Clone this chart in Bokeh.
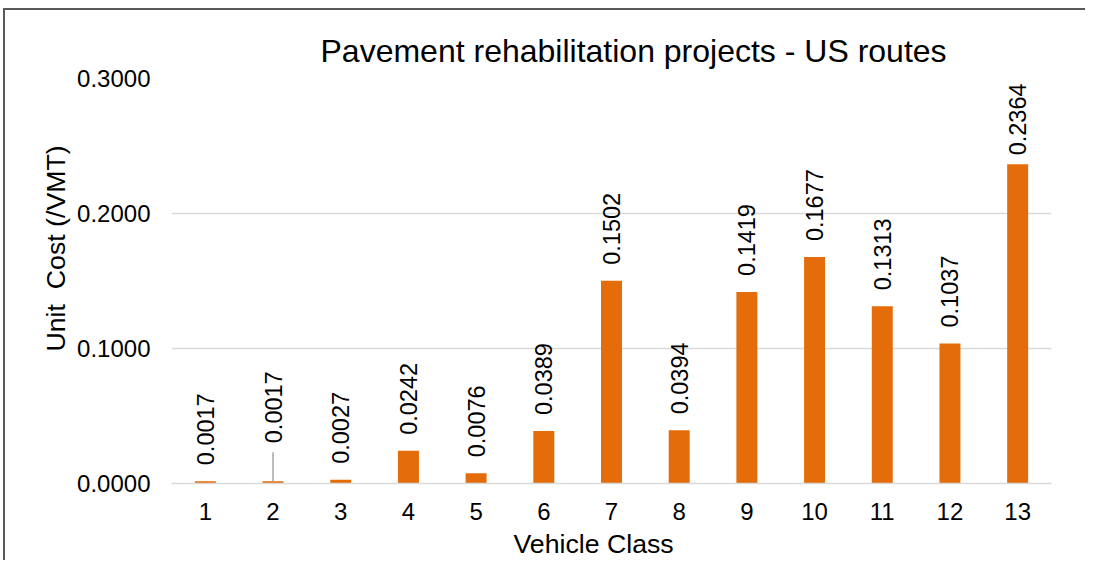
import math
from bokeh.plotting import figure
from bokeh.models import ColumnDataSource, Range1d, FixedTicker, PrintfTickFormatter, Title
from bokeh.core.properties import value
from bokeh.embed import file_html
from bokeh.resources import INLINE

# ---- data ----
classes = [1, 2, 3, 4, 5, 6, 7, 8, 9, 10, 11, 12, 13]
unit_cost = [0.0017, 0.0017, 0.0027, 0.0242, 0.0076, 0.0389, 0.1502,
             0.0394, 0.1419, 0.1677, 0.1313, 0.1037, 0.2364]
labels = ["%.4f" % v for v in unit_cost]
y_ticks = [0.0, 0.1, 0.2, 0.3]
title_text = "Pavement rehabilitation projects - US routes"
x_title = "Vehicle Class"
y_title = "Unit\u00a0 Cost (/VMT)"

# ---- styling / layout ----
FONT = "Liberation Sans"
ORANGE = "#E46C0A"
GRID = "#D9D9D9"
W, H = 1082, 552
MB_L, MB_R, MB_T, MB_B = 166, 36, 68, 78
frame_h = H - MB_T - MB_B
px_per_unit = frame_h / (y_ticks[-1] - y_ticks[0])

# label offsets (pixels above bar top); special cases for manually moved labels
default_gap = 16
special_gap = {2: 38, 13: 9}
offsets = [-special_gap.get(c, default_gap) for c in classes]

p = figure(width=W, height=H, output_backend="svg", toolbar_location=None,
           x_range=Range1d(0.5, 13.5), y_range=Range1d(y_ticks[0], y_ticks[-1]),
           min_border_left=MB_L, min_border_right=MB_R,
           min_border_top=MB_T, min_border_bottom=MB_B)
p.outline_line_color = None
p.background_fill_color = "white"
p.border_fill_color = "white"
p.styles = {"box-shadow": "-2px -2px 0px 0px #595959",
            "margin-left": "5px", "margin-top": "10px"}

src = ColumnDataSource(dict(x=classes, top=unit_cost, label=labels, yoff=offsets))
p.vbar(x="x", top="top", width=0.31, source=src, fill_color=ORANGE, line_color=None)

# leader line for class 2 label
i2 = classes.index(2)
p.segment(x0=[classes[i2]], y0=[unit_cost[i2]], x1=[classes[i2]],
          y1=[unit_cost[i2] + 29 / px_per_unit], line_color="#A6A6A6", line_width=1.5)

p.text(x="x", y="top", text="label", source=src, angle=math.pi / 2,
       y_offset="yoff", text_align="left", text_baseline="middle",
       text_font=value(FONT), text_font_size="23.5px", text_color="black")

# axes
p.yaxis.ticker = FixedTicker(ticks=y_ticks)
p.yaxis.formatter = PrintfTickFormatter(format="%.4f")
p.yaxis.axis_line_color = None
p.yaxis.major_tick_line_color = None
p.yaxis.minor_tick_line_color = None
p.yaxis.major_label_standoff = 15
p.yaxis.major_label_text_font = FONT
p.yaxis.major_label_text_font_size = "24px"
p.yaxis.major_label_text_color = "black"

p.xaxis.ticker = FixedTicker(ticks=classes)
p.xaxis.axis_line_color = GRID
p.xaxis.axis_line_width = 1.5
p.xaxis.major_tick_line_color = None
p.xaxis.minor_tick_line_color = None
p.xaxis.major_label_standoff = 13
p.xaxis.major_label_text_font = FONT
p.xaxis.major_label_text_font_size = "24px"
p.xaxis.major_label_text_color = "black"

p.xgrid.grid_line_color = None
p.ygrid.grid_line_color = GRID
p.ygrid.grid_line_width = 1.5

# titles
p.add_layout(Title(text=title_text, align="left", offset=149, standoff=20,
                   text_font=FONT, text_font_size="32px", text_font_style="normal",
                   text_color="black"), "above")
p.add_layout(Title(text=x_title, align="left", offset=342, standoff=8,
                   text_font=FONT, text_font_size="26.7px", text_font_style="normal",
                   text_color="black"), "below")
p.add_layout(Title(text=y_title, align="left", offset=132, standoff=7,
                   text_font=FONT, text_font_size="26.7px", text_font_style="normal",
                   text_color="black"), "left")

open("out.html", "w").write(file_html(p, INLINE))
